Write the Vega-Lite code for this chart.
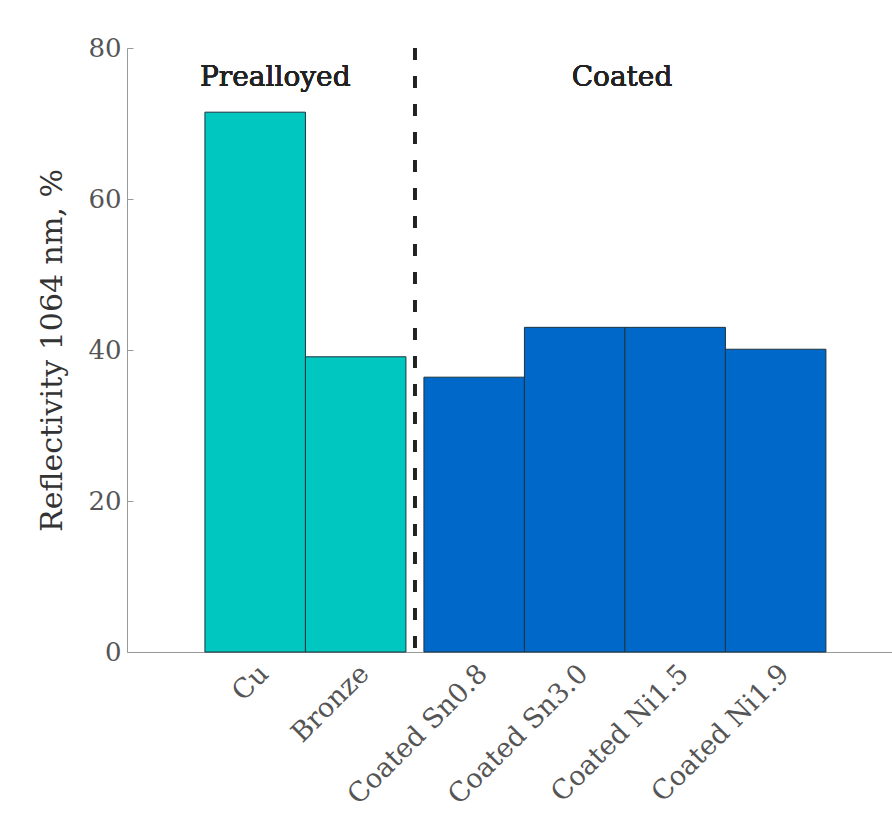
{
  "$schema": "https://vega.github.io/schema/vega-lite/v6.json",
  "width": 765,
  "height": 604,
  "autosize": "none",
  "padding": {"left": 127, "top": 48, "right": 0, "bottom": 180},
  "background": "white",
  "config": {"view": {"stroke": null}, "font": "DejaVu Serif"},
  "data": {"values": [
    {"sample": "Cu", "group": "Prealloyed", "reflectivity": 71.5},
    {"sample": "Bronze", "group": "Prealloyed", "reflectivity": 39.1},
    {"sample": "Coated Sn0.8", "group": "Coated", "reflectivity": 36.4},
    {"sample": "Coated Sn3.0", "group": "Coated", "reflectivity": 43.0},
    {"sample": "Coated Ni1.5", "group": "Coated", "reflectivity": 43.0},
    {"sample": "Coated Ni1.9", "group": "Coated", "reflectivity": 40.1}
  ]},
  "layer": [
    {
      "mark": {"type": "bar", "width": 100.5, "stroke": "#1c3440", "strokeWidth": 1},
      "encoding": {
        "x": {
          "field": "sample", "type": "nominal", "sort": null,
          "scale": {"paddingInner": 0, "paddingOuter": 0.806, "align": 0.481},
          "axis": {
            "title": null, "labelAngle": -45, "ticks": false, "domainColor": "#999999",
            "labelFontSize": 27, "labelColor": "#555555", "labelAlign": "right", "labelBaseline": "top",
            "labelPadding": 8, "labelLimit": 300,
            "labelOffset": {"condition": {"test": "datum.value == 'Cu' || datum.value == 'Bronze'", "value": 0}, "value": 18}
          }
        },
        "xOffset": {
          "field": "group", "type": "nominal", "sort": ["Prealloyed", "Coated"],
          "scale": {"range": [41.25, 77.25], "paddingInner": 0, "paddingOuter": 0}
        },
        "y": {
          "field": "reflectivity", "type": "quantitative",
          "scale": {"domain": [0, 80]},
          "axis": {
            "title": "Reflectivity 1064 nm, %", "values": [0, 20, 40, 60, 80], "grid": false,
            "tickSize": -6, "tickColor": "#999999", "domainColor": "#999999",
            "labelFontSize": 26, "labelColor": "#555555", "labelPadding": 12,
            "titleFontSize": 30, "titleFontWeight": "normal", "titleColor": "#333333", "titlePadding": 20
          }
        },
        "color": {
          "field": "group", "type": "nominal",
          "scale": {"domain": ["Prealloyed", "Coated"], "range": ["#00c8c0", "#0068c8"]},
          "legend": null
        }
      }
    },
    {
      "mark": {"type": "rule", "strokeDash": [12, 16], "strokeWidth": 3, "color": "#222222", "xOffset": 9},
      "encoding": {"x": {"datum": "Coated Sn0.8", "type": "nominal", "bandPosition": 0}}
    },
    {
      "mark": {"type": "text", "text": "Prealloyed", "fontSize": 28, "color": "#222222", "align": "center", "baseline": "alphabetic"},
      "encoding": {"x": {"datum": "Cu", "type": "nominal", "bandPosition": 0.7}, "y": {"datum": 75, "type": "quantitative"}}
    },
    {
      "mark": {"type": "text", "text": "Coated", "fontSize": 28, "color": "#222222", "align": "center", "baseline": "alphabetic"},
      "encoding": {"x": {"datum": "Coated Ni1.5", "type": "nominal", "bandPosition": 0.15}, "y": {"datum": 75, "type": "quantitative"}}
    }
  ]
}
